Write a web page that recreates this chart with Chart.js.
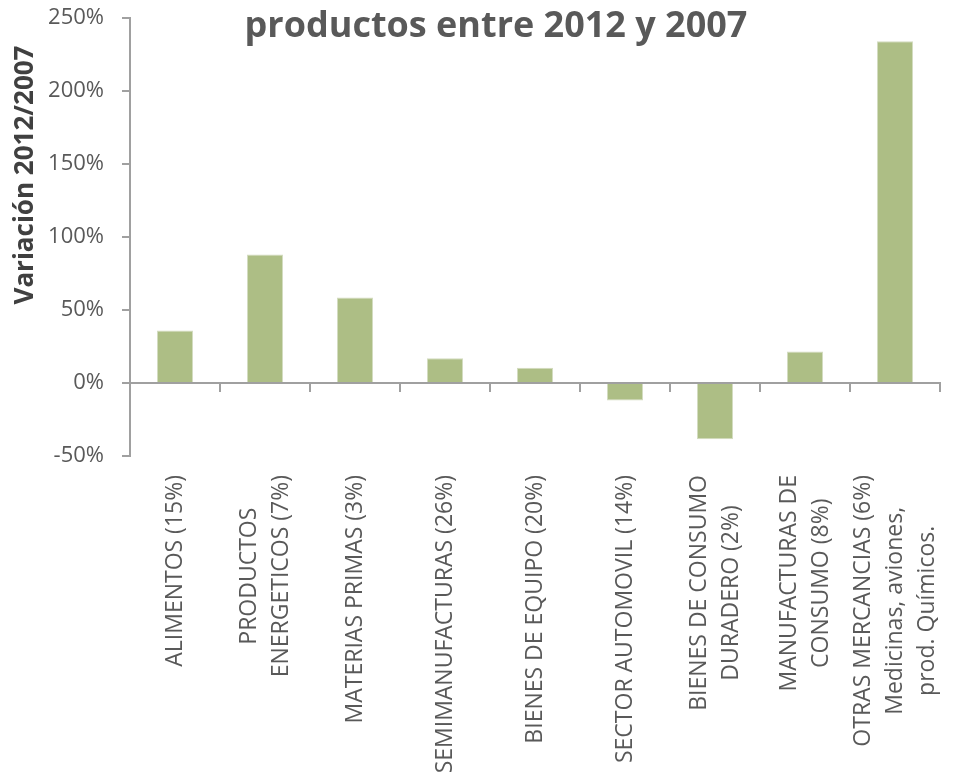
<!DOCTYPE html>
<html>
<head>
<meta charset="utf-8">
<script src="https://cdn.jsdelivr.net/npm/chart.js@4.4.1/dist/chart.umd.min.js"></script>
<style>
  html, body { margin: 0; padding: 0; background: #fff; }
</style>
</head>
<body>
<canvas id="chart" width="966" height="782"></canvas>
<script>
// categories (share of exports in brackets) and the 2012/2007 change in %
const categories = [
  ["ALIMENTOS (15%)"],
  ["PRODUCTOS", "ENERGETICOS (7%)"],
  ["MATERIAS PRIMAS (3%)"],
  ["SEMIMANUFACTURAS (26%)"],
  ["BIENES DE EQUIPO (20%)"],
  ["SECTOR AUTOMOVIL (14%)"],
  ["BIENES DE CONSUMO", "DURADERO (2%)"],
  ["MANUFACTURAS DE", "CONSUMO (8%)"],
  ["OTRAS MERCANCIAS (6%)", "Medicinas, aviones,", "prod. Químicos."]
];
const variation = [36, 88, 58.5, 17, 10.5, -12, -38.5, 21.5, 234];
const yTicks = [-50, 0, 50, 100, 150, 200, 250];
const chartTitle = "productos entre 2012 y 2007";
const yTitle = "Variación 2012/2007";

const AXIS = "#a0a0a0";
const TEXT = "#595959";
const FONT = "'Open Sans', 'Noto Sans', sans-serif";

// titles and the rotated category labels are drawn by hand so they can sit
// where the original put them (over the plot / centred multi-line blocks)
const textPlugin = {
  id: "texts",
  afterDraw(chart) {
    const ctx = chart.ctx;
    const xs = chart.scales.x;
    ctx.save();

    ctx.fillStyle = TEXT;
    ctx.font = "bold 36px " + FONT;
    ctx.textAlign = "center";
    ctx.textBaseline = "alphabetic";
    ctx.fillText(chartTitle, 496, 37);

    ctx.save();
    ctx.translate(33, 175);
    ctx.rotate(-Math.PI / 2);
    ctx.fillStyle = "#404040";
    ctx.font = "bold 26px " + FONT;
    ctx.fillText(yTitle, 0, 0);
    ctx.restore();

    ctx.font = "23px " + FONT;
    ctx.fillStyle = TEXT;
    ctx.textBaseline = "middle";
    const lineH = 32;
    const top = chart.chartArea.bottom + 19;
    categories.forEach((lines, i) => {
      const px = xs.getPixelForValue(i);
      const maxW = Math.max(...lines.map(l => ctx.measureText(l).width));
      lines.forEach((line, j) => {
        ctx.save();
        ctx.translate(px + (j - (lines.length - 1) / 2) * lineH, top + maxW / 2);
        ctx.rotate(-Math.PI / 2);
        ctx.fillText(line, 0, 0);
        ctx.restore();
      });
    });
    ctx.restore();
  }
};

new Chart(document.getElementById("chart"), {
  type: "bar",
  data: {
    labels: categories.map(c => c.join(" ")),
    datasets: [{
      data: variation,
      backgroundColor: "#adbe85",
      borderColor: "#d3dcc0",
      borderWidth: 1,
      categoryPercentage: 0.8,
      barPercentage: 0.5
    }]
  },
  options: {
    responsive: false,
    animation: false,
    layout: { padding: { top: 18, right: 26, left: 0, bottom: 0 } },
    plugins: {
      legend: { display: false },
      title: { display: false },
      tooltip: { enabled: false }
    },
    scales: {
      x: {
        position: "bottom",
        offset: true,
        grid: { display: false, drawTicks: false },
        border: { display: false },
        ticks: { display: false },
        afterFit: s => { s.height = 326; }
      },
      x0: {
        type: "category",
        position: { y: 0 },
        offset: true,
        grid: { offset: true, drawOnChartArea: false, tickLength: 8, color: AXIS, lineWidth: 2 },
        border: { display: true, color: AXIS, width: 2 },
        ticks: { display: false }
      },
      y: {
        min: -50,
        max: 250,
        afterBuildTicks: s => { s.ticks = yTicks.map(v => ({ value: v })); },
        grid: { drawOnChartArea: false, tickLength: 8, color: AXIS, lineWidth: 2 },
        border: { display: true, color: AXIS, width: 2 },
        ticks: {
          color: TEXT,
          padding: 18,
          font: { family: FONT, size: 22 },
          callback: v => v + "%"
        },
        // fixed width; drop the label padding so the plot top stays at 18px
        afterFit: s => { s.width = 130; s.paddingTop = 0; s.paddingBottom = 0; }
      }
    }
  },
  plugins: [textPlugin]
});
</script>
</body>
</html>
